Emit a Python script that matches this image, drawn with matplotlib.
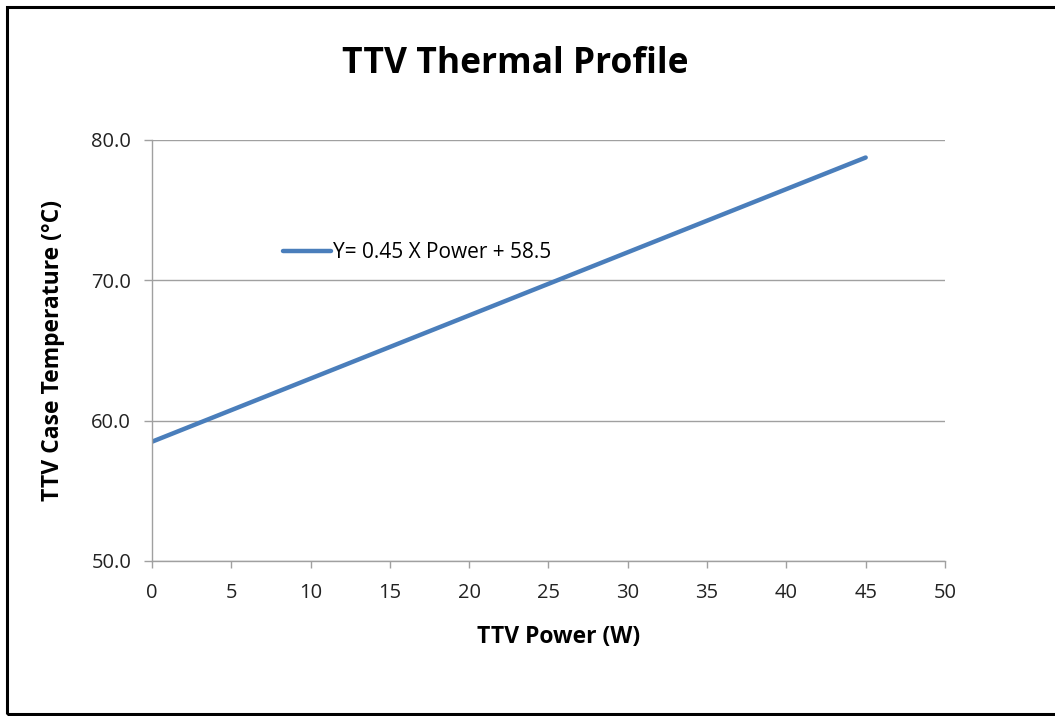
import matplotlib.pyplot as plt
from matplotlib.patches import Rectangle

# TTV power (W) and case temperature (C)
power = [0, 5, 10, 15, 20, 25, 30, 35, 40, 45]
temp = [58.5, 60.75, 63.0, 65.25, 67.5, 69.75, 72.0, 74.25, 76.5, 78.75]
x_ticks = [0, 5, 10, 15, 20, 25, 30, 35, 40, 45, 50]
y_ticks = [50.0, 60.0, 70.0, 80.0]
series_label = 'Y= 0.45 X Power + 58.5'

plt.rcParams['font.family'] = ['Open Sans', 'DejaVu Sans']

fig = plt.figure(figsize=(10.55, 7.16), dpi=100)
ax = fig.add_axes([0.1441, 0.2165, 0.7516, 0.588])

# outer frame (right edge runs off the picture)
fig.patches.append(Rectangle((7 / 1055, 2 / 716), 1.1, 707 / 716, transform=fig.transFigure,
                             fill=False, edgecolor='black', linewidth=2.2))

ax.plot(power, temp, color='#4a7ebb', linewidth=3.2, solid_capstyle='round', label=series_label)

ax.set_xlim(0, 50)
ax.set_ylim(50, 80)
ax.set_xticks(x_ticks)
ax.set_yticks(y_ticks)
ax.set_yticklabels(['%.1f' % v for v in y_ticks])

grey = '#a0a0a0'
ax.grid(axis='y', color=grey, linewidth=1)
ax.set_axisbelow(True)
for s in ['top', 'right']:
    ax.spines[s].set_visible(False)
for s in ['left', 'bottom']:
    ax.spines[s].set_color(grey)
    ax.spines[s].set_linewidth(1)
ax.tick_params(axis='both', color=grey, labelsize=14.5, labelcolor='#222222', width=1)
ax.tick_params(axis='x', length=5, pad=11)
ax.tick_params(axis='y', length=6, pad=9)

ax.set_xlabel('TTV Power (W)', fontsize=16.5, fontweight='bold', labelpad=16)
ax.xaxis.label.set_x(0.513)
ax.set_ylabel('TTV Case Temperature (\u00b0C)', fontsize=16.5, fontweight='bold', labelpad=19)
fig.text(0.488, 0.911, 'TTV Thermal Profile', fontsize=25.5, fontweight='bold', ha='center', va='center')

leg = ax.legend(loc='center left', bbox_to_anchor=(0.155, 0.732), frameon=False,
                fontsize=15, handlelength=2.3, handletextpad=0.08, borderaxespad=0)

fig.savefig('out.png', dpi=100)
